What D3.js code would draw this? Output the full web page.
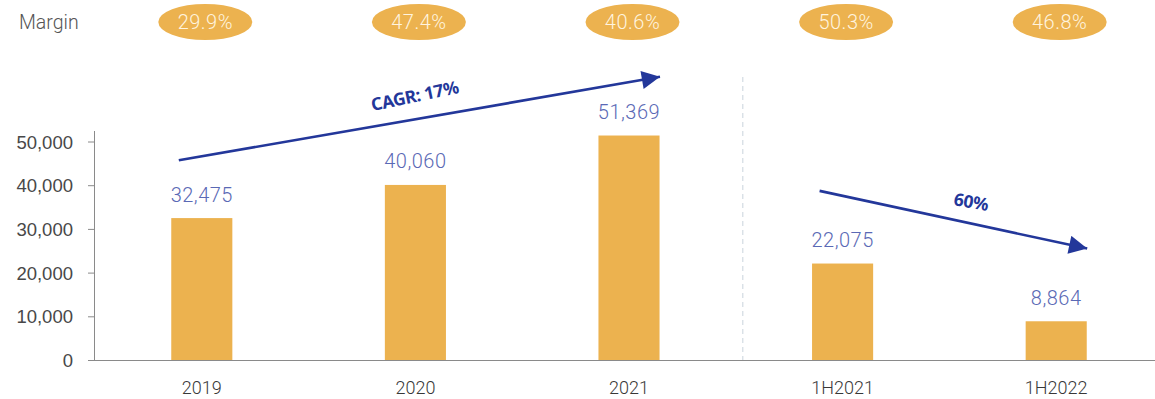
<!DOCTYPE html>
<html>
<head>
<meta charset="utf-8">
<script src="https://cdn.jsdelivr.net/npm/d3@7"></script>
<style>
  html, body { margin: 0; padding: 0; background: #fff; }
  svg { display: block; font-family: Roboto, "Noto Sans", sans-serif; }
</style>
</head>
<body>
<svg id="chart" width="1155" height="399"></svg>
<script>
// Revenue by period, with margin for each period
const categories = ["2019", "2020", "2021", "1H2021", "1H2022"];
const revenue = [32475, 40060, 51369, 22075, 8864];
const margins = ["29.9%", "47.4%", "40.6%", "50.3%", "46.8%"];
const yTicks = [0, 10000, 20000, 30000, 40000, 50000];
const trendLabels = ["CAGR: 17%", "60%"];

const barColor = "#ECB24F";
const blue = "#23379A";
const valueColor = "#5A69B5";

const svg = d3.select("#chart");
const W = 1155;

const x = d3.scaleBand()
  .domain(categories)
  .range([95, 1163])
  .paddingInner(0.714)
  .paddingOuter(0.357);

const y = d3.scaleLinear()
  .domain([0, 50000])
  .range([360, 141.5]);

// y axis
const yAxis = svg.append("g")
  .attr("transform", "translate(95,0)")
  .call(d3.axisLeft(y).tickValues(yTicks).tickSize(7).tickPadding(15)
    .tickFormat(d3.format(",")));
yAxis.select(".domain").attr("stroke", "#8a8a8a").attr("d", `M-0.5,${y(0)}V131`);
yAxis.selectAll(".tick line").attr("stroke", "#8a8a8a");
yAxis.selectAll(".tick text")
  .attr("fill", "#484848").style("font-size", "18.5px").style("font-weight", 300)
  .attr("dy", "0.36em");

// x baseline running to the right edge
svg.append("line")
  .attr("x1", 88).attr("x2", W)
  .attr("y1", y(0) + 0.5).attr("y2", y(0) + 0.5)
  .attr("stroke", "#8a8a8a").attr("stroke-width", 1.2);

// category labels
svg.append("g").selectAll("text")
  .data(categories)
  .join("text")
  .attr("x", d => x(d) + x.bandwidth() / 2)
  .attr("y", 394)
  .attr("text-anchor", "middle")
  .attr("fill", "#383838")
  .style("font-size", "18px")
  .style("font-weight", 300)
  .text(d => d);

// separator between annual and half-year periods
const gapStart = x("2021") + x.bandwidth();
const sepX = gapStart + (x("1H2021") - gapStart) * 0.546;
svg.append("line")
  .attr("x1", sepX).attr("x2", sepX)
  .attr("y1", 77).attr("y2", 360)
  .attr("stroke", "#c9d3dd").attr("stroke-width", 1)
  .attr("stroke-dasharray", "5,4");

// bars
svg.append("g").selectAll("rect")
  .data(revenue)
  .join("rect")
  .attr("x", (d, i) => x(categories[i]))
  .attr("width", x.bandwidth())
  .attr("y", d => y(d))
  .attr("height", d => y(0) - y(d))
  .attr("fill", barColor);

// value labels
svg.append("g").selectAll("text")
  .data(revenue)
  .join("text")
  .attr("x", (d, i) => x(categories[i]) + x.bandwidth() / 2)
  .attr("y", d => y(d) - 16.5)
  .attr("text-anchor", "middle")
  .attr("fill", valueColor)
  .style("font-size", "20px")
  .style("font-weight", 300)
  .style("letter-spacing", "0.5px")
  .text(d => d3.format(",")(d));

// margin row
svg.append("text")
  .attr("x", 19).attr("y", 28.5)
  .attr("fill", "#555")
  .style("font-size", "19.5px")
  .style("font-weight", 300)
  .text("Margin");

const mg = svg.append("g").selectAll("g")
  .data(margins)
  .join("g")
  .attr("transform", (d, i) => `translate(${x(categories[i]) + x.bandwidth() / 2 + 3.5},22)`);
mg.append("ellipse").attr("rx", 47).attr("ry", 18).attr("fill", barColor);
mg.append("text")
  .attr("y", 7.3)
  .attr("text-anchor", "middle")
  .attr("fill", "#FFF4DF")
  .style("font-size", "20px")
  .style("font-weight", 300)
  .style("letter-spacing", "0.5px")
  .text(d => d);

// trend arrows
const defs = svg.append("defs");
defs.append("marker")
  .attr("id", "arrowHead")
  .attr("viewBox", "0 0 10 10")
  .attr("refX", 10).attr("refY", 5)
  .attr("markerWidth", 7.5).attr("markerHeight", 7)
  .attr("markerUnits", "strokeWidth")
  .attr("orient", "auto")
  .append("path")
  .attr("d", "M0,0L10,5L0,10Z")
  .attr("fill", blue);

function trend(i0, v0, i1, v1, label, lx, ly) {
  const cx = c => x(categories[c]) + x.bandwidth() / 2;
  const x1 = cx(i0) - 23, y1 = y(v0);
  const x2 = cx(i1) + 31, y2 = y(v1);
  svg.append("line")
    .attr("x1", x1).attr("y1", y1).attr("x2", x2).attr("y2", y2)
    .attr("stroke", blue).attr("stroke-width", 2.6)
    .attr("marker-end", "url(#arrowHead)");
  const ang = Math.atan2(y2 - y1, x2 - x1) * 180 / Math.PI;
  svg.append("text")
    .attr("transform", `translate(${lx},${ly}) rotate(${ang - 2})`)
    .attr("text-anchor", "middle")
    .attr("fill", blue)
    .style("font-family", "'Noto Sans', Roboto, sans-serif")
    .style("font-size", "17.5px")
    .style("font-weight", 700)
    .style("letter-spacing", "-0.4px")
    .text(label);
}
// positions are expressed in data space along the value axis
trend(0, 45700, 2, 64800, trendLabels[0], 416, 102);
trend(3, 38700, 4, 25500, trendLabels[1], 970, 208);
</script>
</body>
</html>
